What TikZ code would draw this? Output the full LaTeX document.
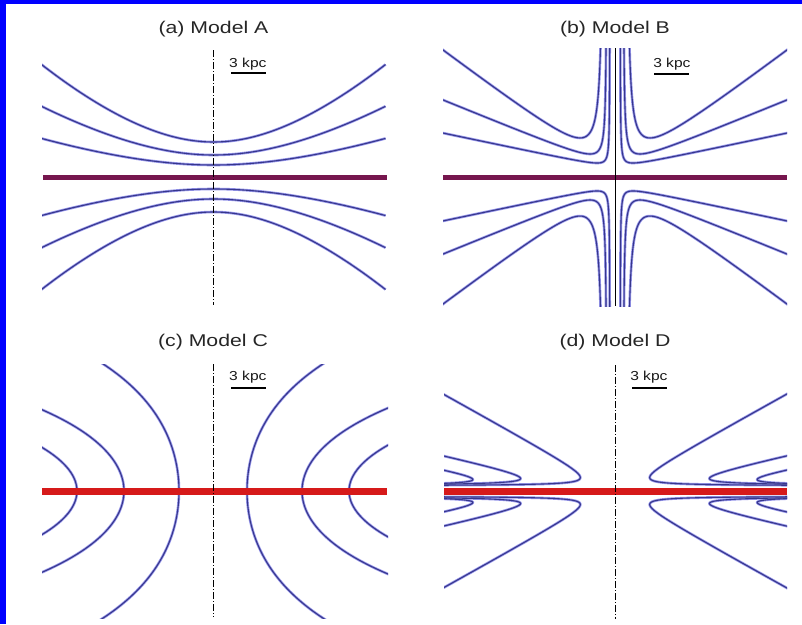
\documentclass[tikz,border=0pt]{standalone}
\usepackage{fontspec}
\setmainfont{Liberation Sans}
\usetikzlibrary{positioning}

\definecolor{fieldblue}{RGB}{55,55,140}
\definecolor{fieldhalo}{RGB}{150,150,235}
\definecolor{diskpurple}{RGB}{118,22,78}
\definecolor{diskred}{RGB}{214,26,26}
\definecolor{frameblue}{RGB}{0,0,255}

\begin{document}
\begin{tikzpicture}[
  x=1pt, y=-1pt,
  paneltitle/.style={font=\fontsize{17}{20}\selectfont, text=black!85, xscale=1.25, anchor=base, inner sep=0pt},
  kpclabel/.style={font=\fontsize{13}{15}\selectfont, text=black!90, xscale=1.2, anchor=base west, inner sep=0pt},
  sbar/.style={black, line width=1.2pt},
  halo/.style={fieldhalo, line width=2.6pt},
  fline/.style={fieldblue, line width=1.1pt},
  zaxis/.style={black, line width=0.8pt, dash pattern=on 7pt off 2pt on 1pt off 2pt},
  diskA/.style={diskpurple, line width=5pt},
  diskC/.style={diskred, line width=7pt}
]
\useasboundingbox (0,0) rectangle (802,624);
\fill[white] (0,0) rectangle (802,624);
\fill[frameblue] (0,0) rectangle (802,4);
\fill[frameblue] (0,0) rectangle (6,624);

% (a) Model A
\begin{scope}
  \clip (42,40) rectangle (388,310);
  \foreach \st in {halo,fline}
    \foreach \d in {12,22,35}
      \foreach \sg in {-1,1}
        \draw[\st] plot[domain=-172:172, samples=90] ({213.5+\x}, {177+\sg*\d*(1+(\x/88.9)^2)^0.75});
\end{scope}

% (b) Model B
\begin{scope}
  \clip (443,48) rectangle (787,306);
  \foreach \st in {halo,fline}
    \foreach \ua/\hz/\s/\c in {11/2.8/0.755/435, 8/9.1/0.41/118, 5/8.5/0.211/35.7}
      \foreach \sx in {-1,1}
        \foreach \sy in {-1,1}
          \draw[\st] plot[domain=-1.8:5.2, samples=140] ({615+\sx*(\ua+exp(\x))}, {177+\sy*(\hz+\s*exp(\x)+\c/exp(\x))});
\end{scope}

% (c) Model C
\begin{scope}
  \clip (42,364) rectangle (388,618);
  \foreach \st in {halo,fline}
    \foreach \d/\a in {34/69, 89/64, 136/62}
      \foreach \sx in {-1,1}
        \draw[\st] plot[domain=-140:140, samples=100] ({213+\sx*\d*cosh(\x/\a)}, {491+\x});
\end{scope}

% (d) Model D
\begin{scope}
  \clip (444,360) rectangle (787,620);
  \foreach \st in {halo,fline}
    \foreach \uz/\m/\c in {4/0.5526/72, 26.4/0.22/56, 73.6/0.189/42}
      \foreach \sx in {-1,1}
        \foreach \sy in {-1,1}
          \draw[\st] plot[domain=-1:4.7, samples=140] ({615+\sx*(\uz+(exp(\x)+\c/exp(\x))/\m)}, {491+\sy*(5+exp(\x))});
\end{scope}

% disks and axes
\draw[diskA] (43,177) -- (387,177);
\draw[diskA] (443,177) -- (787,177);
\draw[diskC] (42,491) -- (387,491);
\draw[diskC] (444,491) -- (787,491);
\draw[zaxis] (213.5,50) -- (213.5,305);
\draw[black, line width=0.9pt] (615,48) -- (615,306);
\draw[zaxis] (213,364) -- (213,617);
\draw[zaxis] (615,365) -- (615,619);

% titles and scale bars
\node[paneltitle] (titleA) at (213.5,33) {(a) Model A};
\node[paneltitle] (titleB) at (615,33) {(b) Model B};
\node[paneltitle] (titleC) at (213,346) {(c) Model C};
\node[paneltitle] (titleD) at (615,346) {(d) Model D};
\node[kpclabel] (kpcA) at (229,67) {3 kpc};
\node[kpclabel] (kpcB) at (653,67) {3 kpc};
\node[kpclabel] (kpcC) at (229,380) {3 kpc};
\node[kpclabel] (kpcD) at (630,380) {3 kpc};
\draw[sbar] (231,73) -- (266,73);
\draw[sbar] (654,74) -- (689,74);
\draw[sbar] (231,388) -- (266,388);
\draw[sbar] (632,388) -- (667,388);
\end{tikzpicture}
\end{document}
